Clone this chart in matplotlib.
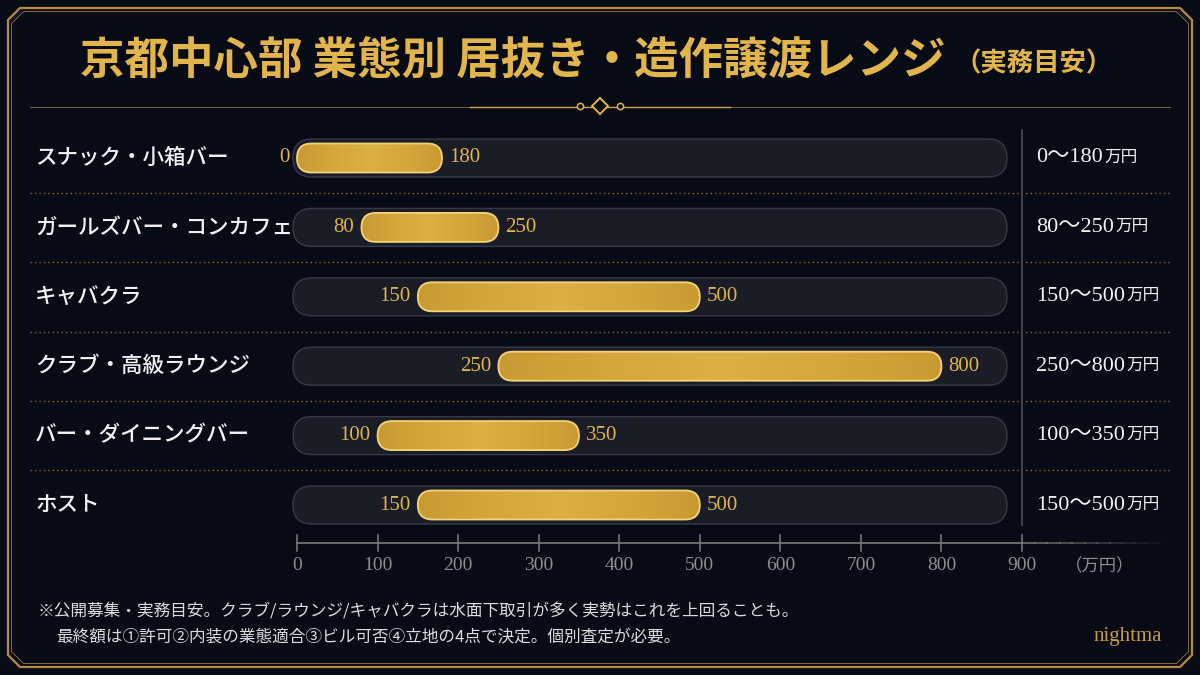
import numpy as np
import matplotlib
matplotlib.use("Agg")
import matplotlib.pyplot as plt
from matplotlib.patches import FancyBboxPatch, Polygon
from matplotlib.colors import LinearSegmentedColormap

# ---- data ----
categories = ["スナック・小箱バー", "ガールズバー・コンカフェ", "キャバクラ",
              "クラブ・高級ラウンジ", "バー・ダイニングバー", "ホスト"]
low = [0, 80, 150, 250, 100, 150]
high = [180, 250, 500, 800, 350, 500]
ticks = [0, 100, 200, 300, 400, 500, 600, 700, 800, 900]
unit = "万円"

title = "京都中心部 業態別 居抜き・造作譲渡レンジ"
subtitle = "（実務目安）"
note1 = "※公開募集・実務目安。クラブ/ラウンジ/キャバクラは水面下取引が多く実勢はこれを上回ることも。"
note2 = "最終額は①許可②内装の業態適合③ビル可否④立地の4点で決定。個別査定が必要。"
brand = "nightma"

# ---- style ----
W, H = 1200, 675
BG = "#070b16"
GOLD = "#e2b44c"
GOLD_LINE = "#b98a3e"
JP = ["Noto Sans CJK JP", "DejaVu Sans"]
SERIF = ["Liberation Serif", "Noto Sans CJK JP"]
plt.rcParams["font.family"] = JP

fig = plt.figure(figsize=(12, 6.75), dpi=100, facecolor=BG)

# decoration layer in pixel coords
deco = fig.add_axes([0, 0, 1, 1])
deco.set_xlim(0, W)
deco.set_ylim(H, 0)
deco.axis("off")
deco.set_facecolor(BG)

def frame(inset, lw, c=GOLD_LINE, cut=12):
    x0, y0, x1, y1 = inset, inset, W - inset, H - inset
    pts = [(x0 + cut, y0), (x1 - cut, y0), (x1, y0 + cut), (x1, y1 - cut),
           (x1 - cut, y1), (x0 + cut, y1), (x0, y1 - cut), (x0, y0 + cut)]
    deco.add_patch(Polygon(pts, closed=True, fill=False, ec=c, lw=lw))

frame(8, 1.6)
frame(11.5, 0.7, c="#8a6a34")

# title
deco.text(946, 60, title, ha="right", va="center", fontsize=32,
          fontweight="bold", color=GOLD, family=JP)
deco.text(954, 64, subtitle, ha="left", va="center", fontsize=19,
          fontweight="bold", color=GOLD, family=JP)

# divider with ornament
deco.plot([30, 1170], [107, 107], color="#7a5a2a", lw=0.8)
deco.plot([470, 730], [107, 107], color="#c9a050", lw=1.0)
deco.plot([600], [106], marker="D", ms=8, mfc=BG, mec=GOLD, mew=1.4)
deco.plot([580, 620], [106, 106], ls="none", marker="o", ms=4.5, mfc=BG, mec=GOLD, mew=1.1)

# footnotes
deco.text(38, 611, note1, ha="left", va="center", fontsize=12, color="#dcdcdc")
deco.text(56, 637, note2, ha="left", va="center", fontsize=12, color="#dcdcdc")
deco.text(1162, 637, brand, ha="right", va="center", fontsize=15,
          color="#c99a45", family=SERIF)

# ---- chart axes ----
X0_PX, X900_PX = 297, 1022          # pixel position of 0 and 900
ROW0_PX, ROW_STEP = 158, 69.4       # pixel centre of first row and spacing
L_PX, R_PX, T_PX, B_PX = 20, 1180, 125, 585
px_per_x = (X900_PX - X0_PX) / 900.0

def xv(px):
    return (px - X0_PX) / px_per_x

def yv(px):
    return (px - ROW0_PX) / ROW_STEP

ax = fig.add_axes([L_PX / W, 1 - B_PX / H, (R_PX - L_PX) / W, (B_PX - T_PX) / H])
ax.set_xlim(xv(L_PX), xv(R_PX))
ax.set_ylim(yv(B_PX), yv(T_PX))
ax.axis("off")
ax.patch.set_alpha(0)

asp = px_per_x / ROW_STEP
gold_cmap = LinearSegmentedColormap.from_list(
    "gold", ["#c99a32", "#d4a63b", "#dcb045", "#d4a63b", "#c99a32"])

track_h_px, bar_h_px = 38, 29
track_h = track_h_px / ROW_STEP
bar_h = bar_h_px / ROW_STEP
gap = 7 / px_per_x
n = len(categories)

for i, (cat, lo, hi) in enumerate(zip(categories, low, high)):
    # background track
    tx0, tx1 = xv(293), xv(1007)
    track = FancyBboxPatch((tx0, i - track_h / 2), tx1 - tx0, track_h,
                           boxstyle=f"round,pad=0,rounding_size={track_h_px / 2 / px_per_x}",
                           mutation_aspect=asp, fc="#1a1d26", ec="#363a46", lw=1.0, zorder=2)
    ax.add_patch(track)

    # gold range bar
    bar = FancyBboxPatch((lo, i - bar_h / 2), hi - lo, bar_h,
                         boxstyle=f"round,pad=0,rounding_size={bar_h_px / 2 / px_per_x}",
                         mutation_aspect=asp, fc="none", ec="#f4d47a", lw=1.3, zorder=4)
    ax.add_patch(bar)
    grad = np.linspace(0, 1, 256).reshape(1, -1)
    im = ax.imshow(grad, cmap=gold_cmap, aspect="auto", zorder=3,
                   extent=(lo, hi, i + bar_h / 2, i - bar_h / 2))
    im.set_clip_path(bar)

    ax.text(lo - gap, i, str(lo), ha="right", va="center", fontsize=15,
            color=GOLD, family=SERIF, zorder=5)
    ax.text(hi + gap, i, str(hi), ha="left", va="center", fontsize=15,
            color=GOLD, family=SERIF, zorder=5)

    # row label
    ax.text(xv(35), i, cat, ha="left", va="center", fontsize=15.5,
            color="#f2f2f2", fontweight="medium", family=JP)

    # range column
    t = ax.text(xv(1036), i, f"{lo}～{hi}", ha="left", va="center",
                fontsize=16, color="#f2f2f2", family=SERIF)
    ax.annotate(unit, xy=(1, 0), xycoords=t, xytext=(1, 1.5),
                textcoords="offset points", ha="left", va="bottom",
                fontsize=12, color="#f2f2f2", family=JP)

# restore limits after imshow
ax.set_xlim(xv(L_PX), xv(R_PX))
ax.set_ylim(yv(B_PX), yv(T_PX))

# dotted separators
for i in range(n - 1):
    ax.plot([xv(30), xv(1170)], [i + 0.5, i + 0.5], color="#9a6430",
            lw=1.0, ls=(0, (1, 2.2)), zorder=1)

# right column divider
ax.plot([ticks[-1], ticks[-1]], [yv(130), yv(525)], color="#4b4d55", lw=1.2, zorder=1)

# bottom axis
ay = yv(543)
ax.plot([ticks[0], ticks[-1]], [ay, ay], color="#7d7d7d", lw=1.2)
ext = np.linspace(ticks[-1], xv(1160), 12)
for k in range(len(ext) - 1):
    ax.plot(ext[k:k + 2], [ay, ay], color="#7d7d7d", lw=1.2,
            alpha=0.9 * (1 - k / (len(ext) - 1)))
for tk in ticks:
    ax.plot([tk, tk], [yv(535), yv(551)], color="#7d7d7d", lw=1.1)
    ax.text(tk, yv(566), str(tk), ha="center", va="center", fontsize=14,
            color="#8e8e8e", family=SERIF)
ax.text(xv(1100), yv(566), f"（{unit}）", ha="center", va="center",
        fontsize=12.5, color="#8e8e8e", family=JP)

fig.savefig("out.png", dpi=100, facecolor=BG)
